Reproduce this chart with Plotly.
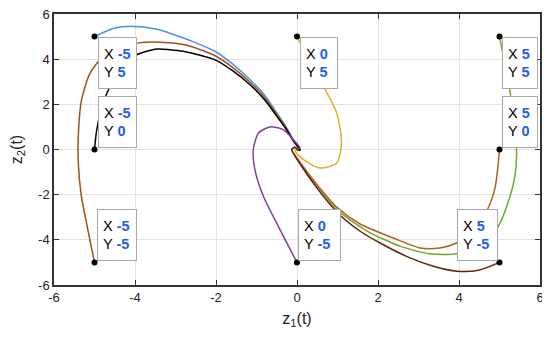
import plotly.graph_objects as go

# ---- data ----
start_x = [-5, 0, 5, -5, 5, -5, 0, 5]
start_y = [5, 5, 5, 0, 0, -5, -5, -5]

blue_x = [-5, -4.5, -4.0, -3.4, -3.14, -2.6, -2.02, -1.6, -1.16, -0.8, -0.5, -0.25, -0.09, 0.03, 0.08, 0.0]
blue_y = [5, 5.38, 5.45, 5.3, 5.15, 4.8, 4.34, 3.8, 3.09, 2.4, 1.62, 0.95, 0.43, 0.1, -0.02, 0.0]

black_x = [-5, -4.95, -4.8, -4.55, -4.25, -3.96, -3.46, -3.14, -2.81, -2.02, -1.6, -1.16, -0.8, -0.5, -0.25, -0.09, 0.03, 0.08, 0.0]
black_y = [0, 0.8, 2.0, 3.0, 3.75, 4.19, 4.45, 4.42, 4.35, 3.97, 3.5, 2.87, 2.2, 1.48, 0.85, 0.38, 0.1, -0.02, 0.0]

brown_x = [-5, -5.17, -5.33, -5.4, -5.4, -5.32, -5.11, -4.8, -4.4, -3.96, -3.38, -2.72, -2.02, -1.6, -1.16, -0.8, -0.5, -0.25, -0.09, 0.03, 0.08, 0.0]
brown_y = [-5, -3.5, -2.0, -0.6, 0.6, 2.2, 3.38, 4.1, 4.55, 4.71, 4.75, 4.62, 4.15, 3.65, 2.98, 2.3, 1.55, 0.9, 0.4, 0.1, -0.02, 0.0]

yellow_x = [0, 0.2, 0.45, 0.69, 0.98, 1.1, 0.98, 0.57, 0.16, -0.05, 0.0]
yellow_y = [5, 4.3, 3.5, 2.68, 1.61, 0.29, -0.6, -0.82, -0.45, -0.07, 0.0]

purple_x = [0, -0.42, -0.83, -1.04, -1.08, -0.95, -0.67, -0.34, -0.09, 0.07, 0.0]
purple_y = [-5, -3.55, -2.07, -0.89, 0.0, 0.73, 1.0, 0.88, 0.43, 0.07, 0.0]

green_x = [5, 5.17, 5.26, 5.38, 5.42, 5.38, 5.18, 4.97, 4.6, 3.94, 3.28, 2.54, 1.72, 0.98, 0.49, 0.07, -0.13, -0.05, 0.0]
green_y = [5, 3.5, 2.57, 0.6, 0.0, -1.19, -2.51, -3.4, -4.2, -4.62, -4.62, -4.28, -3.6, -2.66, -1.6, -0.6, 0.0, 0.1, 0.0]

orange_x = [5, 4.97, 4.89, 4.72, 4.35, 3.94, 3.53, 3.04, 2.38, 1.56, 0.98, 0.49, 0.07, -0.13, -0.05, 0.0]
orange_y = [0, -0.6, -1.7, -2.59, -3.6, -4.14, -4.36, -4.36, -3.92, -3.3, -2.55, -1.55, -0.55, 0.0, 0.1, 0.0]

maroon_x = [5, 4.48, 3.94, 3.37, 2.79, 2.05, 1.56, 1.0, 0.49, 0.07, -0.13, -0.05, 0.0]
maroon_y = [-5, -5.35, -5.39, -5.17, -4.8, -4.14, -3.62, -2.8, -1.7, -0.62, 0.0, 0.1, 0.0]

x_ticks = [-6, -4, -2, 0, 2, 4, 6]
y_ticks = [-6, -4, -2, 0, 2, 4, 6]

FONT = "Arial, Liberation Sans, sans-serif"

# ---- figure ----
fig = go.Figure()

series = [
    (blue_x, blue_y, "#4f8fe8"),
    (brown_x, brown_y, "#a0521e"),
    (black_x, black_y, "#000000"),
    (yellow_x, yellow_y, "#e0b020"),
    (purple_x, purple_y, "#7e3f9e"),
    (green_x, green_y, "#6fa82a"),
    (orange_x, orange_y, "#b0621f"),
    (maroon_x, maroon_y, "#5e2410"),
]
for xs, ys, col in series:
    fig.add_trace(go.Scatter(x=xs, y=ys, mode="lines",
                             line=dict(color=col, width=1.5, shape="spline", smoothing=0.7),
                             showlegend=False, hoverinfo="skip"))

fig.add_trace(go.Scatter(x=start_x, y=start_y, mode="markers",
                         marker=dict(color="black", size=6), showlegend=False))

# datatip box styling: (xanchor, yanchor, xshift, yshift, inner width)
placement = [
    ("left", "top", 3, 0, 27),
    ("left", "top", 3, 0, 26),
    ("left", "top", 2, 0, 24),
    ("left", "bottom", 3, 2, 27),
    ("left", "bottom", 2, 2, 24),
    ("left", "bottom", 2, 1, 28),
    ("left", "bottom", 1, 1, 31),
    ("right", "bottom", -2, 1, 29),
]

def fmt(v):
    return f"<b><span style='color:#1f5cf0'>{v}</span></b>"

for (xv, yv), (xa, ya, xs_, ys_, w) in zip(zip(start_x, start_y), placement):
    fig.add_annotation(
        x=xv, y=yv, xref="x", yref="y", showarrow=False,
        text=f"X {fmt(xv)}<br>Y {fmt(yv)}",
        xanchor=xa, yanchor=ya, align="left", valign="middle",
        xshift=xs_, yshift=ys_, width=w, height=40,
        bgcolor="white", bordercolor="#a8a8a8", borderwidth=1, borderpad=5,
        font=dict(family=FONT, size=14.5, color="black"),
    )

axis_common = dict(
    showgrid=True, gridcolor="#e3e3e3", gridwidth=1, automargin=False,
    ticklabeloverflow="allow",
    zeroline=False, showline=True, linecolor="#333333", linewidth=1.5,
    mirror="ticks", ticks="inside", ticklen=5, tickcolor="#333333",
    tickfont=dict(family=FONT, size=13, color="#222222"),
)

fig.update_xaxes(range=[-6, 6], tickvals=x_ticks, ticktext=[str(t) for t in x_ticks],
                 title=dict(text="z<sub>1</sub>(t)", standoff=8,
                            font=dict(family=FONT, size=16, color="#222222")),
                 **axis_common)
fig.update_yaxes(range=[-6, 6], tickvals=y_ticks, ticktext=[str(t) for t in y_ticks],
                 title=dict(text="z<sub>2</sub>(t)", standoff=12,
                            font=dict(family=FONT, size=16, color="#222222")),
                 **axis_common)

# the page adds an 8px body margin, so the figure is sized to fit the 550x337 window
fig.update_layout(
    width=542, height=329,
    margin=dict(l=46, r=10, t=6, b=52),
    paper_bgcolor="white", plot_bgcolor="white",
)

fig.write_html("out.html")
